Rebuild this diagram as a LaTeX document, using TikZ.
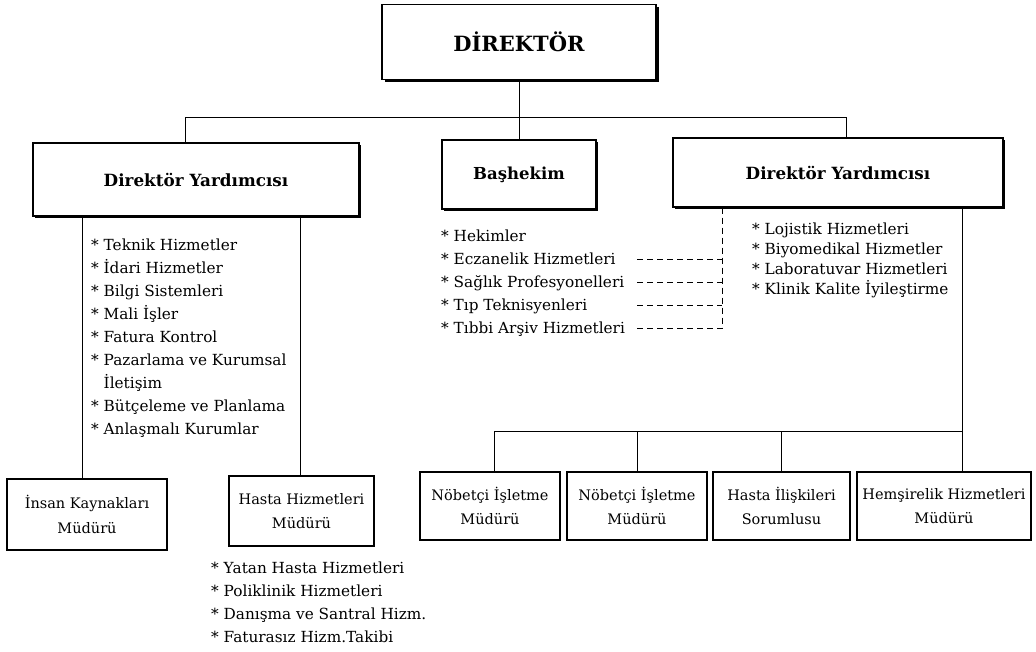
\documentclass[tikz,border=0pt]{standalone}
\usepackage{fontspec}
\setmainfont{DejaVu Serif}
\usetikzlibrary{shadows}
\begin{document}
\begin{tikzpicture}[x=1pt,y=-1pt,
  link/.style={line width=1pt},
  dashlink/.style={line width=1pt, dash pattern=on 6pt off 4pt},
  unitbox/.style={draw, line width=1.1pt, fill=white, inner sep=0pt, align=center},
  headbox/.style={unitbox, drop shadow={shadow xshift=1.6pt, shadow yshift=-1.6pt, fill=black, opacity=1}},
  topbox/.style={unitbox, drop shadow={shadow xshift=2.6pt, shadow yshift=-2.6pt, fill=black, opacity=1}},
  titletext/.style={font=\fontsize{16.8}{19}\selectfont\bfseries},
  unittext/.style={font=\fontsize{14.5}{24.5}\selectfont},
  listtext/.style={inner sep=0pt, anchor=north west, align=left},
]
\useasboundingbox (0,0) rectangle (1036,651);

% management boxes
\node[topbox, minimum width=274pt, minimum height=75pt, font=\fontsize{21}{24}\selectfont\bfseries] (dir) at (519,42) {DİREKTÖR};
\node[headbox, minimum width=326pt, minimum height=73pt, titletext] (ldy) at (196,179.5) {Direktör Yardımcısı};
\node[headbox, minimum width=154pt, minimum height=69pt, font=\fontsize{16.5}{18}\selectfont\bfseries] (bas) at (519,174.5) {Başhekim};
\node[headbox, minimum width=330pt, minimum height=69pt, titletext] (rdy) at (838,172.5) {Direktör Yardımcısı};

% unit boxes
\node[unitbox, minimum width=160pt, minimum height=71pt, unittext] (ik) at (87,514.5) {İnsan Kaynakları\\Müdürü};
\node[unitbox, minimum width=145pt, minimum height=70pt, unittext] (hh) at (301.5,511) {Hasta Hizmetleri\\Müdürü};
\node[unitbox, minimum width=140pt, minimum height=68pt, unittext] (nb1) at (490,506) {Nöbetçi İşletme\\Müdürü};
\node[unitbox, minimum width=140pt, minimum height=68pt, unittext] (nb2) at (637,506) {Nöbetçi İşletme\\Müdürü};
\node[unitbox, minimum width=137pt, minimum height=68pt, unittext] (hi) at (781.5,506) {Hasta İlişkileri\\Sorumlusu};
\node[unitbox, minimum width=174pt, minimum height=68pt, unittext] (hem) at (944,506) {Hemşirelik Hizmetleri\\Müdürü};

% service lists
\node[listtext, font=\fontsize{15.3}{23}\selectfont] (llist) at (91,238.5) {%
* Teknik Hizmetler\\* İdari Hizmetler\\* Bilgi Sistemleri\\* Mali İşler\\* Fatura Kontrol\\%
* Pazarlama ve Kurumsal\\\hphantom{* }İletişim\\* Bütçeleme ve Planlama\\* Anlaşmalı Kurumlar};
\node[listtext, font=\fontsize{15.3}{23}\selectfont] (blist) at (441,229.5) {%
* Hekimler\\* Eczanelik Hizmetleri\\* Sağlık Profesyonelleri\\* Tıp Teknisyenleri\\* Tıbbi Arşiv Hizmetleri};
\node[listtext, font=\fontsize{15.3}{20}\selectfont] (rlist) at (752,222.5) {%
* Lojistik Hizmetleri\\* Biyomedikal Hizmetler\\* Laboratuvar Hizmetleri\\* Klinik Kalite İyileştirme};
\node[listtext, font=\fontsize{15.3}{23}\selectfont] (hlist) at (211,561.5) {%
* Yatan Hasta Hizmetleri\\* Poliklinik Hizmetleri\\* Danışma ve Santral Hizm.\\* Faturasız Hizm.Takibi};

% top level bus
\coordinate (busL) at (185,117);
\coordinate (busR) at (846,117);
\draw[link] (dir.south) -- (bas.north);
\draw[link] (busL |- ldy.north) -- (busL) -- (busR) -- (busR |- rdy.north);

% left branch
\coordinate (lcA) at (82,0);
\coordinate (lcB) at (300,0);
\draw[link] (ldy.south -| lcA) -- (ik.north -| lcA);
\draw[link] (ldy.south -| lcB) -- (hh.north -| lcB);

% right branch
\coordinate (rc) at (962,431);
\coordinate (lb) at (494,431);
\draw[link] (rdy.south -| rc) -- (rc) -- (lb) -- (lb |- nb1.north);
\draw[link] (rc) -- (rc |- hem.north);
\draw[link] (nb2.north |- rc) -- (nb2.north);
\draw[link] (hi.north |- rc) -- (hi.north);

% dotted reporting lines to the right deputy
\coordinate (dv) at (722,328);
\draw[dashlink] (rdy.south -| dv) -- (dv);
\foreach \y/\n in {259/e,282/s,305/t,328/a}{
  \coordinate (d\n) at (637,\y);
  \draw[dashlink] (d\n) -- (d\n -| dv);
}
\end{tikzpicture}
\end{document}
